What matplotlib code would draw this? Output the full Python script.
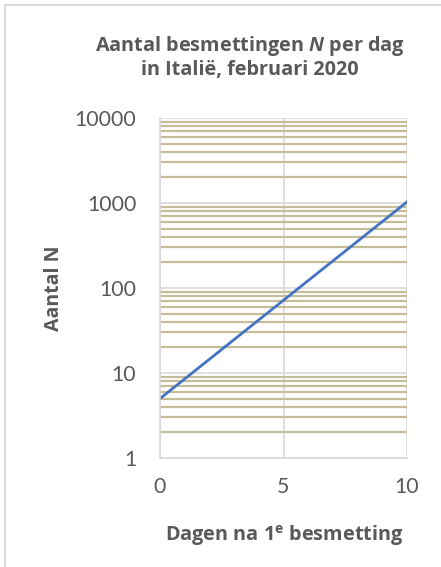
import matplotlib
matplotlib.use("Agg")
import matplotlib.pyplot as plt
from matplotlib.ticker import LogLocator, FixedLocator, NullFormatter
from matplotlib.patches import Rectangle

# data
days = [0, 10]
infections = [5, 1030]
x_ticks = [0, 5, 10]
y_ticks = [1, 10, 100, 1000, 10000]
y_labels = ["1", "10", "100", "1000", "10000"]

text_col = "#595959"
bold_font = ["Open Sans", "DejaVu Sans"]
plt.rcParams["font.family"] = ["Lato", "DejaVu Sans"]
plt.rcParams["mathtext.fontset"] = "custom"
plt.rcParams["mathtext.it"] = "Open Sans:italic:bold"
plt.rcParams["mathtext.bf"] = "Open Sans:bold"
plt.rcParams["mathtext.rm"] = "Open Sans:bold"

fig = plt.figure(figsize=(4.41, 5.67), dpi=100)
ax = fig.add_axes([160 / 441, 1 - 458 / 567, 247 / 441, 340 / 567])

ax.plot(days, infections, color="#4472C4", lw=2)
ax.set_yscale("log")
ax.set_xlim(0, 10)
ax.set_ylim(1, 10000)

ax.yaxis.set_major_locator(FixedLocator(y_ticks))
ax.set_yticklabels(y_labels)
ax.yaxis.set_minor_locator(LogLocator(base=10, subs=range(2, 10)))
ax.yaxis.set_minor_formatter(NullFormatter())
ax.set_xticks(x_ticks)

ax.grid(which="major", color="#D9D9D9", lw=1.2)
ax.grid(which="minor", axis="y", color="#C4BD97", lw=1.6)
ax.set_axisbelow(True)
ax.tick_params(which="both", length=0, labelsize=15.3, labelcolor=text_col)
ax.tick_params(axis="x", pad=14)
ax.tick_params(axis="y", pad=17)
for s in ["top", "right"]:
    ax.spines[s].set_visible(False)
for s in ["left", "bottom"]:
    ax.spines[s].set_color("#D9D9D9")
    ax.spines[s].set_linewidth(1.2)

fig.text(250 / 441, 1 - 57 / 567, "Aantal besmettingen $N$ per dag\nin Italië, februari 2020",
         ha="center", va="center", fontsize=14.3, fontweight="bold", color=text_col,
         family=bold_font, linespacing=1.2)
fig.text(54 / 441, 1 - 288 / 567, "Aantal N", rotation=90, ha="center", va="center",
         fontsize=14, fontweight="bold", color=text_col, family=bold_font)
fig.text(284 / 441, 1 - 535 / 567, "Dagen na 1$^{\\mathrm{e}}$ besmetting",
         ha="center", va="center", fontsize=14.3, fontweight="bold", color=text_col,
         family=bold_font)

fig.patches.append(Rectangle((5 / 441, -0.1), 1.2, 1 - 5 / 567 + 0.1,
                             transform=fig.transFigure, fill=False,
                             edgecolor="#D9D9D9", lw=1.5))

fig.savefig("out.png", dpi=100)
